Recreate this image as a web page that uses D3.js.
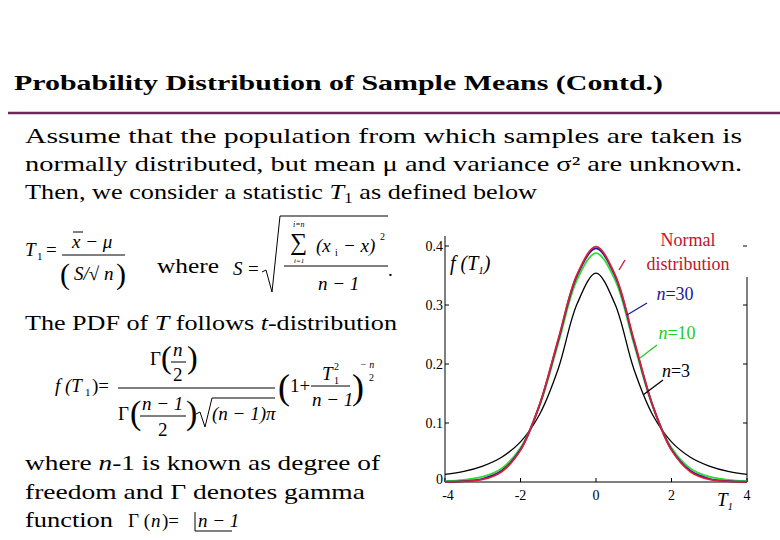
<!DOCTYPE html>
<html><head><meta charset="utf-8">
<script src="https://cdn.jsdelivr.net/npm/d3@7"></script>
<style>body{margin:0;background:#fff}svg{display:block}text{font-family:"Liberation Serif",serif}</style>
</head><body><svg id="c" width="780" height="540"></svg>
<script>
const xs = [-4,-3.5,-3,-2.5,-2,-1.5,-1,-0.5,0,0.5,1,1.5,2,2.5,3,3.5,4];
const normalVals = [0.0001,0.0009,0.0044,0.0175,0.054,0.130,0.242,0.352,0.399,0.352,0.242,0.130,0.054,0.0175,0.0044,0.0009,0.0001];
const n30Vals = [0.0004,0.0014,0.0055,0.019,0.055,0.130,0.240,0.350,0.396,0.350,0.240,0.130,0.055,0.019,0.0055,0.0014,0.0004];
const n10Vals = [0.0014,0.0035,0.009,0.023,0.058,0.128,0.235,0.343,0.388,0.343,0.235,0.128,0.058,0.023,0.009,0.0035,0.0014];
const n3Vals = [0.013,0.018,0.027,0.042,0.068,0.114,0.192,0.302,0.354,0.302,0.192,0.114,0.068,0.042,0.027,0.018,0.013];
const xTicks = [-4,-2,0,2,4];
const yTicks = [0,0.1,0.2,0.3,0.4];

const svg = d3.select("#c");
const FS = 21;
svg.append("text").attr("x",14).attr("y",90).attr("font-size",22).attr("font-weight","bold").attr("textLength",649).attr("lengthAdjust","spacingAndGlyphs").text("Probability Distribution of Sample Means (Contd.)");
svg.append("line").attr("x1",8).attr("x2",780).attr("y1",113).attr("y2",113).attr("stroke","#6b2a5a").attr("stroke-width",2.5);

function btext(x,y,w,parts){
  const e=svg.append("text").attr("x",x).attr("y",y).attr("font-size",FS);
  if(w) e.attr("textLength",w).attr("lengthAdjust","spacingAndGlyphs");
  parts.forEach(p=>{const s=e.append("tspan").text(p[0]); if(p[1]==="i") s.attr("font-style","italic"); if(p[1]==="sub") s.attr("font-size",14).attr("dy",4); if(p[1]==="up") s.attr("dy",-4);});
  return e;
}
btext(25,143,717,[["Assume that the population from which samples are taken is"]]);
btext(25,171,717,[["normally distributed, but mean   μ  and variance   σ² are unknown."]]);
btext(25,199,512,[["Then, we consider a statistic "],["T","i"],["1","sub"],[" as defined below","up"]]);

const g = svg.append("g").attr("font-size",19);
function tx(x,y,t,o={}){const e=g.append("text").attr("x",x).attr("y",y).text(t);for(const k in o)e.attr(k,o[k]);return e;}
tx(25,256,"T",{"font-style":"italic"});tx(37,260,"1",{"font-size":11});tx(46,256,"=");
tx(72,248,"x − μ",{"font-style":"italic"});g.append("line").attr("x1",73).attr("x2",83).attr("y1",232).attr("y2",232).attr("stroke","#000");
g.append("line").attr("x1",62).attr("x2",125).attr("y1",255).attr("y2",255).attr("stroke","#000");
tx(60,284,"(",{"font-size":30});tx(74,280,"S/√",{"font-style":"italic"});tx(104,280,"n",{"font-style":"italic"});tx(116,284,")",{"font-size":30});
btext(157,273,62,[["where"]]);
tx(233,275,"S",{"font-style":"italic"});tx(248,275,"=");
g.append("path").attr("d","M262,272 L266,270 L272,292 L280,216 L388,216").attr("fill","none").attr("stroke","#000");
tx(290,250,"∑",{"font-size":24});tx(293,227,"i=n",{"font-size":8,"font-style":"italic"});tx(294,263,"i=1",{"font-size":7,"font-style":"italic"});
tx(316,252,"(x",{"font-style":"italic"});tx(335,256,"i",{"font-size":10});tx(343,252,"− x)",{"font-style":"italic"});tx(380,240,"2",{"font-size":10});
g.append("line").attr("x1",284).attr("x2",388).attr("y1",266).attr("y2",266).attr("stroke","#000");
tx(318,290,"n − 1",{"font-style":"italic"});tx(388,276,".");

btext(25,330,372,[["The PDF of "],["T","i"],[" follows "],["t","i"],["-distribution"]]);

tx(55,392,"f (T",{"font-style":"italic"});tx(85,396,"1",{"font-size":11});tx(92,392,")=");
tx(150,365,"Γ");tx(161,368,"(",{"font-size":32});tx(173,356,"n",{"font-style":"italic"});g.append("line").attr("x1",171).attr("x2",186).attr("y1",362).attr("y2",362).attr("stroke","#000");tx(173,381,"2");tx(187,368,")",{"font-size":32});
g.append("line").attr("x1",118).attr("x2",275).attr("y1",388).attr("y2",388).attr("stroke","#000");
tx(118,420,"Γ");tx(130,424,"(",{"font-size":34});tx(142,410,"n − 1",{"font-style":"italic"});g.append("line").attr("x1",140).attr("x2",186).attr("y1",416).attr("y2",416).attr("stroke","#000");tx(158,436,"2");tx(186,424,")",{"font-size":34});
g.append("path").attr("d","M196,414 L200,412 L205,427 L212,398 L275,398").attr("fill","none").attr("stroke","#000");
tx(212,420,"(n − 1)π",{"font-style":"italic"});
tx(278,399,"(",{"font-size":36});tx(290,392,"1+");tx(322,380,"T",{"font-style":"italic"});tx(334,370,"2",{"font-size":10});tx(334,384,"1",{"font-size":10});
g.append("line").attr("x1",311).attr("x2",350).attr("y1",386).attr("y2",386).attr("stroke","#000");tx(312,406,"n − 1",{"font-style":"italic"});
tx(352,399,")",{"font-size":36});tx(360,368,"− n",{"font-size":10,"font-style":"italic"});tx(369,381,"2",{"font-size":10});

btext(25,470,355,[["where   "],["n","i"],["-1 is known as degree of"]]);
btext(25,499,340,[["freedom and  Γ  denotes gamma"]]);
btext(25,527,88,[["function"]]);
tx(128,527,"Γ (");tx(151,527,"n",{"font-style":"italic"});tx(162,527,")=");tx(198,527,"n − 1",{"font-style":"italic"});
g.append("path").attr("d","M195,512 L195,531 L232,531").attr("fill","none").attr("stroke","#000");

const x = d3.scaleLinear().domain([-4,4]).range([445,747]);
const y = d3.scaleLinear().domain([0,0.4]).range([482,246]);
const c = svg.append("g").attr("font-size",14);
c.append("line").attr("x1",445).attr("x2",445).attr("y1",236).attr("y2",482).attr("stroke","#000");
c.append("line").attr("x1",747).attr("x2",747).attr("y1",277).attr("y2",482).attr("stroke","#000");
c.append("line").attr("x1",445).attr("x2",747).attr("y1",482).attr("y2",482).attr("stroke","#000");
yTicks.forEach(v=>{
  c.append("line").attr("x1",445).attr("x2",449).attr("y1",y(v)).attr("y2",y(v)).attr("stroke","#000");
  c.append("line").attr("x1",743).attr("x2",747).attr("y1",y(v)).attr("y2",y(v)).attr("stroke","#000");
  c.append("text").attr("x",443).attr("y",y(v)+(v===0?2:5)).attr("text-anchor","end").text(v===0?"0":v.toFixed(1));
});
xTicks.forEach(v=>{
  c.append("line").attr("x1",x(v)).attr("x2",x(v)).attr("y1",478).attr("y2",482).attr("stroke","#000");
  c.append("text").attr("x",x(v)+(v===-4?3:0)).attr("y",500).attr("text-anchor","middle").text(v<0?"-"+Math.abs(v):v);
});
const line = d3.line().x((d,i)=>x(xs[i])).y(d=>y(d)).curve(d3.curveCatmullRom);
[[n3Vals,"#000"],[n10Vals,"#33dd33"],[n30Vals,"#1a1aa0"],[normalVals,"#d81e3a"]].forEach(([v,col])=>
  c.append("path").attr("d",line(v)).attr("fill","none").attr("stroke",col).attr("stroke-width",col==="#000"?1.3:1.8));
const lt = c.append("text").attr("x",450).attr("y",270).attr("font-size",20).attr("font-style","italic");
lt.append("tspan").text("f (T");lt.append("tspan").attr("font-size",11).attr("dy",4).text("1");lt.append("tspan").attr("dy",-4).text(")");
const xt = c.append("text").attr("x",717).attr("y",506).attr("font-size",19).attr("font-style","italic");
xt.append("tspan").text("T");xt.append("tspan").attr("font-size",11).attr("dy",4).text("1");

const labs=[["Normal",688,246,"#c8102e",null],["distribution",688,270,"#c8102e",[619,270,625,260]],
["n=30",675,300,"#1a1aa0",[627,315,647,303]],["n=10",677,339,"#22cc22",[640,358,657,345]],["n=3",676,377,"#000",[643,395,663,380]]];
labs.forEach(([t,lx,ly,col,ln])=>{
  const e=svg.append("text").attr("x",lx).attr("y",ly).attr("text-anchor","middle").attr("font-size",18).attr("fill",col);
  if(t.startsWith("n=")){e.append("tspan").attr("font-style","italic").text("n");e.append("tspan").text(t.slice(1));}else e.text(t);
  if(ln) svg.append("line").attr("x1",ln[0]).attr("y1",ln[1]).attr("x2",ln[2]).attr("y2",ln[3]).attr("stroke",col).attr("stroke-width",1.3);
});
</script></body></html>
